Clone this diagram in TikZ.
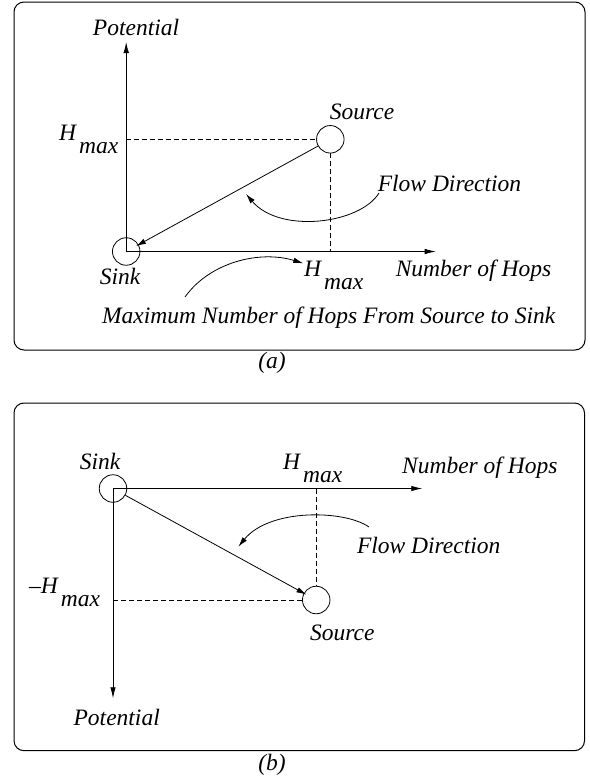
\documentclass[tikz,border=0pt]{standalone}
\usepackage{fontspec}
\setmainfont{Liberation Serif}
\usetikzlibrary{arrows.meta}
\newcommand{\Hmx}[1][]{#1H\hspace{3pt}\raisebox{-13pt}{max}}
\begin{document}
\begin{tikzpicture}[x=1pt,y=-1pt,
  font=\fontsize{23.5}{28}\selectfont\itshape,
  lbl/.style={inner sep=0pt,anchor=base},
  hlbl/.style={inner sep=0pt,anchor=base west},
  frm/.style={draw,line width=1pt,rounded corners=10pt},
  ax/.style={line width=0.8pt,-{Latex[length=11pt,width=5.5pt]}},
  flow/.style={line width=0.8pt,-{Latex[length=10pt,width=5.5pt]}},
  dsh/.style={line width=0.8pt,dash pattern=on 5pt off 3pt},
  dot/.style={draw,circle,line width=0.8pt,minimum size=27.5pt,inner sep=0pt}]
\useasboundingbox (0,0) rectangle (589,779);
% ---------- panel (a)
\draw[frm] (14,2) rectangle (585,350);
\node[dot] (sinkA) at (126.2,251.5) {};
\node[dot] (srcA) at (330.3,139.3) {};
\coordinate (potA) at (126.2,42);
\coordinate (hopA) at (435.7,251.5);
\coordinate (hyA) at (126.2,139.3);
\coordinate (hxA) at (330.3,251.5);
\draw[ax] (sinkA.center) -- (potA);
\draw[ax] (sinkA.center) -- (hopA);
\draw[dsh] (hyA) -- (srcA.west);
\draw[dsh] (srcA.south) -- (hxA);
\draw[flow,shorten >=-3pt] (srcA) -- (sinkA);
\coordinate (fa1) at (379,193);
\coordinate (fa2) at (246,194);
\draw[flow] (fa1) .. controls (360,224) and (280,234) .. (fa2);
\coordinate (la1) at (185,297);
\coordinate (la2) at (303.3,263.3);
\draw[flow] (la1) .. controls (210,262) and (260,250) .. (la2);
\node[lbl] (tPotA) at (136,35) {Potential};
\node[lbl] (tSrcA) at (362,119.3) {Source};
\node[lbl] (tFlowA) at (449.5,191.7) {Flow Direction};
\node[lbl] (tSinkA) at (120,284.3) {Sink};
\node[lbl] (tHopA) at (473.5,276.7) {Number of Hops};
\node[lbl] (tMaxA) at (328.7,323.3) {Maximum Number of Hops From Source to Sink};
\node[lbl] (tA) at (272,368) {(a)};
\node[hlbl] (hmA1) at (59,140) {\Hmx};
\node[hlbl] (hmA2) at (304,276.7) {\Hmx};
% ---------- panel (b)
\draw[frm] (14,403) rectangle (584.5,750.7);
\node[dot] (sinkB) at (113,488.5) {};
\node[dot] (srcB) at (316.2,600) {};
\coordinate (potB) at (113,698.3);
\coordinate (hopB) at (422.3,488.5);
\coordinate (hyB) at (113,600);
\coordinate (hxB) at (316.2,488.5);
\draw[ax] (sinkB.center) -- (hopB);
\draw[ax] (sinkB.center) -- (potB);
\draw[dsh] (hyB) -- (srcB.west);
\draw[dsh] (hxB) -- (srcB.north);
\draw[flow,shorten >=-3pt] (sinkB) -- (srcB);
\coordinate (fb1) at (369,527);
\coordinate (fb2) at (238.3,546.7);
\draw[flow] (fb1) .. controls (345,510) and (270,508) .. (fb2);
\node[lbl] (tSinkB) at (100,469) {Sink};
\node[hlbl] (hmB1) at (283,469) {\Hmx};
\node[lbl] (tHopB) at (479.8,473.3) {Number of Hops};
\node[lbl] (tFlowB) at (428.7,553.3) {Flow Direction};
\node[hlbl] (hmB2) at (29,593) {\Hmx[\textendash]};
\node[lbl] (tSrcB) at (342.3,640) {Source};
\node[lbl] (tPotB) at (116.7,725) {Potential};
\node[lbl] (tB) at (272,770) {(b)};
\end{tikzpicture}
\end{document}
